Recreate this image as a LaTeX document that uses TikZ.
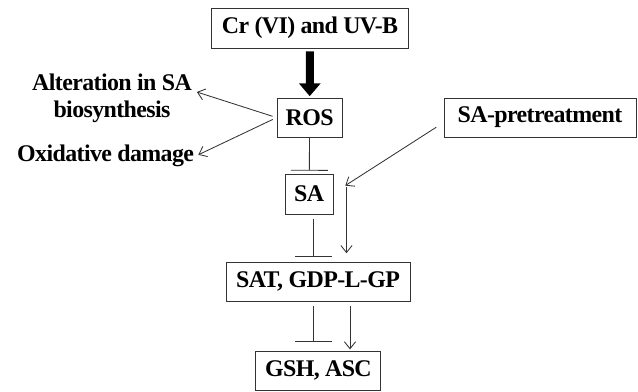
\documentclass[tikz,border=0pt]{standalone}
\usepackage{fontspec}
\setmainfont{Liberation Serif}[LetterSpace=-2.5]
\usetikzlibrary{arrows.meta, calc, positioning}
\tikzset{
    box/.style = {rectangle, draw=black!80, line width=0.7pt, inner sep=0pt,
                  minimum height=0.975cm, font=\bfseries\fontsize{17}{19.5}\selectfont},
    txt/.style = {inner sep=0pt, align=center, font=\bfseries\fontsize{17}{19.5}\selectfont},
    act/.style = {draw=black!80, line width=0.6pt, -{Straight Barb[length=5pt,width=8pt]}},
    inh/.style = {draw=black!80, line width=0.6pt, -{Bar[width=0.925cm]}},
    big/.style = {line width=0.2cm, -{Triangle[length=0.32cm,width=0.52cm]}}
    }

\begin{document}
\begin{tikzpicture}
    \useasboundingbox (0,0) rectangle (15.95,-9.775);

    \node[box, minimum width=4.925cm, minimum height=1cm] (1) at (7.75,-0.7) {Cr (VI) and UV-B};
    \node[box, minimum width=1.625cm] (2) at (7.74,-2.94) {ROS};
    \node[box, minimum width=4.8cm] (3) at (13.5,-2.94) {SA-pretreatment};
    \node[txt] (4) at (2.8,-2.45) {Alteration in SA\\biosynthesis};
    \node[txt] (5) at (2.64,-3.9) {Oxidative damage};
    \node[box, minimum width=1.2cm, minimum height=1cm] (6) at (7.73,-4.85) {SA};
    \node[box, minimum width=4.6cm] (7) at (7.95,-7.04) {SAT, GDP-L-GP};
    \node[box, minimum width=3.125cm] (8) at (7.96,-9.27) {GSH, ASC};
    \coordinate (9) at ([shift={(0.29,0.21)}]6.east); % where SA-pretreatment arrow ends

    \draw[big, shorten <=2pt, shorten >=1pt] (1) -- (2);

    \draw[act, shorten <=3pt] (2.west) -- ([shift={(0.12,0.15)}]4.east);
    \draw[act, shorten <=3pt] (2.west) -- ([shift={(0.1,0.03)}]5.east);

    \draw[inh, shorten >=2pt] (2) -- (6);
    \draw[act] ([shift={(-0.18,-0.24)}]3.west) -- (9);
    \draw[act, shorten >=6pt] ([shift={(0.03,-0.03)}]9) -- ([xshift=0.03cm]9 |- 7.north);

    \draw[inh, shorten <=3pt, shorten >=3.5pt] ([xshift=0.1cm]6.south) -- ([xshift=0.1cm]6.south |- 7.north);
    \draw[inh, shorten <=3pt, shorten >=6.4pt] ([xshift=-0.125cm]7.south) -- ([xshift=-0.125cm]7.south |- 8.north);
    \draw[act, shorten <=3pt, shorten >=1pt] ([xshift=0.8cm]7.south) -- ([xshift=0.8cm]7.south |- 8.north);

\end{tikzpicture}
\end{document}
